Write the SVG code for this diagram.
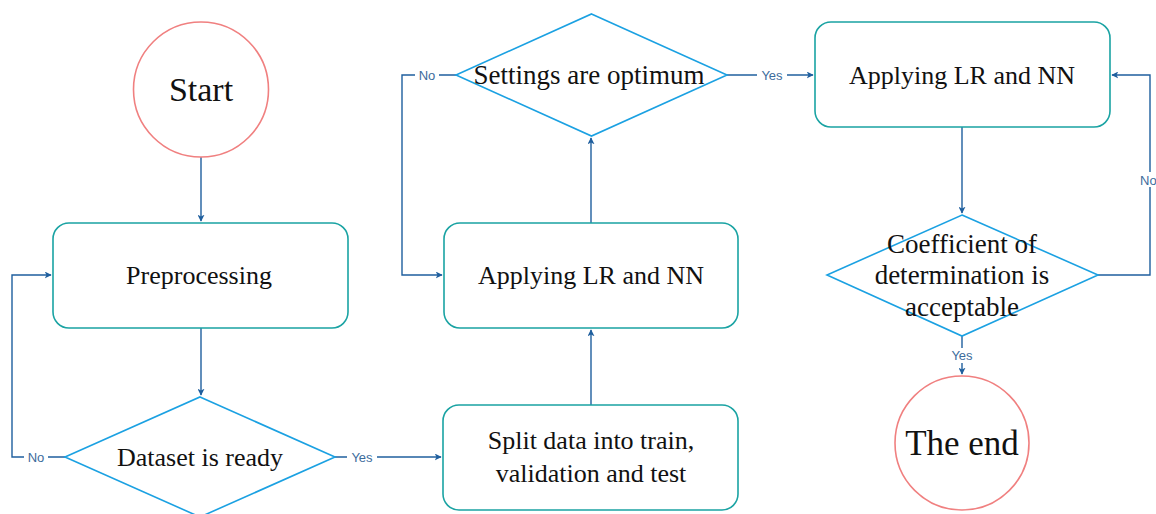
<svg xmlns="http://www.w3.org/2000/svg" width="1156" height="514" viewBox="0 0 1156 514">
<defs>
<marker id="arr" viewBox="0 0 10 10" refX="9" refY="5" markerWidth="7" markerHeight="7" orient="auto" markerUnits="userSpaceOnUse">
<path d="M0,0 L10,5 L0,10 L2.5,5 Z" fill="#1f5f9e"/>
</marker>
<style>
.box{fill:#fff;stroke:#1aa3a3;stroke-width:1.6}
.dia{fill:#fff;stroke:#1ba1e2;stroke-width:1.6}
.circ{fill:#fff;stroke:#f08080;stroke-width:1.6}
.t{font-family:"Liberation Serif",serif;font-size:26px;fill:#111;text-anchor:middle}
.c{fill:none;stroke:#1f5f9e;stroke-width:1.4}
.lbl{font-family:"Liberation Sans",sans-serif;font-size:13px;fill:#3d6c9c;text-anchor:middle}
.bg{fill:#fff}
</style>
</defs>
<rect width="1156" height="514" fill="#fff"/>
<g id="connectors">
<path class="c" d="M201,157 V221" marker-end="url(#arr)"/>
<path class="c" d="M201,328 V395" marker-end="url(#arr)"/>
<path class="c" d="M65,457 H12 V275 H51" marker-end="url(#arr)"/>
<path class="c" d="M335,457 H441" marker-end="url(#arr)"/>
<path class="c" d="M591,405 V330" marker-end="url(#arr)"/>
<path class="c" d="M591,223 V138" marker-end="url(#arr)"/>
<path class="c" d="M456,75 H402 V275 H442" marker-end="url(#arr)"/>
<path class="c" d="M727,75 H813" marker-end="url(#arr)"/>
<path class="c" d="M962,127 V213" marker-end="url(#arr)"/>
<path class="c" d="M1098,275 H1150 V75 H1112" marker-end="url(#arr)"/>
<path class="c" d="M962,336 V374" marker-end="url(#arr)"/>
<rect class="bg" x="24" y="450" width="24" height="15"/>
<text class="lbl" x="36" y="462">No</text>
<rect class="bg" x="347" y="450" width="30" height="15"/>
<text class="lbl" x="362" y="462">Yes</text>
<rect class="bg" x="415" y="68" width="24" height="15"/>
<text class="lbl" x="427" y="80">No</text>
<rect class="bg" x="757" y="68" width="30" height="15"/>
<text class="lbl" x="772" y="80">Yes</text>
<rect class="bg" x="1138" y="172" width="18" height="15"/>
<text class="lbl" x="1140" y="185" style="text-anchor:start">No</text>
<rect class="bg" x="948" y="348" width="30" height="15"/>
<text class="lbl" x="962" y="360">Yes</text>
</g>
<g id="start">
<circle class="circ" cx="201" cy="89.5" r="67.5"/>
<text class="t" x="201" y="101" style="font-size:34px">Start</text>
</g>
<g id="preprocessing">
<rect class="box" x="53" y="223" width="295" height="105" rx="16"/>
<text class="t" x="199" y="284">Preprocessing</text>
</g>
<g id="dataset-ready">
<polygon class="dia" points="200,397 335,457 200,517 65,457"/>
<text class="t" x="200" y="466">Dataset is ready</text>
</g>
<g id="split">
<rect class="box" x="443" y="405" width="295" height="105" rx="16"/>
<text class="t" x="591" y="449">Split data into train,</text>
<text class="t" x="591" y="482">validation and test</text>
</g>
<g id="apply1">
<rect class="box" x="444" y="223" width="294" height="105" rx="16"/>
<text class="t" x="591" y="284">Applying LR and NN</text>
</g>
<g id="settings">
<polygon class="dia" points="591.5,14 727,75 591.5,136 456,75"/>
<text class="t" x="589" y="84" style="font-size:27px">Settings are optimum</text>
</g>
<g id="apply2">
<rect class="box" x="815" y="22" width="295" height="105" rx="16"/>
<text class="t" x="962" y="84">Applying LR and NN</text>
</g>
<g id="coefficient">
<polygon class="dia" points="962,215 1098,275 962,336 827,275"/>
<text class="t" x="962" y="253" style="font-size:27px">Coefficient of</text>
<text class="t" x="962" y="284" style="font-size:27px">determination is</text>
<text class="t" x="962" y="316" style="font-size:27px">acceptable</text>
</g>
<g id="end">
<circle class="circ" cx="962" cy="443" r="67"/>
<text class="t" x="962" y="455" style="font-size:35px">The end</text>
</g>
</svg>
